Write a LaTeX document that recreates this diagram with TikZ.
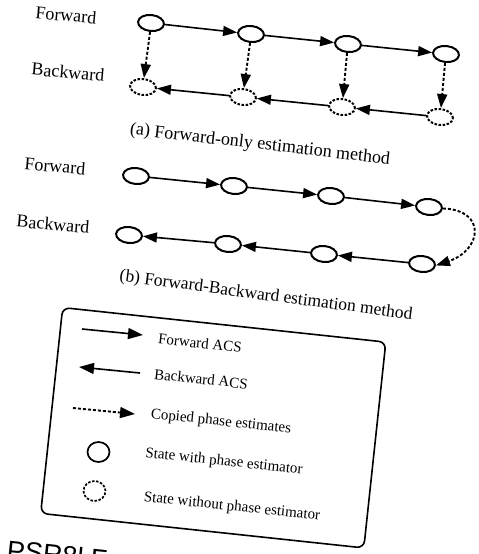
\documentclass[tikz,border=0pt]{standalone}
\usepackage{fontspec}
\setmainfont{Liberation Serif}
\newfontfamily\sansfont{Liberation Sans}
\usetikzlibrary{shapes.geometric,arrows.meta}
\begin{document}
\begin{tikzpicture}[x=1pt,y=-1pt,
  st/.style={ellipse,draw,line width=2pt,inner sep=0pt,minimum width=26pt,minimum height=16pt,rotate=-6},
  stx/.style={st,dash pattern=on 2.5pt off 1.6pt},
  lst/.style={ellipse,draw,line width=1.7pt,inner sep=0pt,minimum width=22pt,minimum height=20pt},
  lstx/.style={lst,dash pattern=on 2.5pt off 1.6pt},
  fw/.style={line width=1.6pt,-{Triangle[length=14pt,width=10pt]}},
  cp/.style={fw,line width=1.9pt,dash pattern=on 3pt off 2pt},
  lbl/.style={font=\fontsize{18}{20}\selectfont,rotate=-5,inner sep=0pt},
  capt/.style={font=\fontsize{18}{20}\selectfont,inner sep=0pt},
  leg/.style={font=\fontsize{15}{17}\selectfont,rotate=-6,inner sep=0pt}
]
\useasboundingbox (0,0) rectangle (479,554);

% ---- (a) Forward-only ----
\node[lbl] (la1) at (66,15) {Forward};
\node[lbl] (la2) at (68,72) {Backward};
\node[st] (F1) at (151,23) {};
\node[st] (F2) at (251,34) {};
\node[st] (F3) at (348,44) {};
\node[st] (F4) at (446,54) {};
\node[stx] (B1) at (143,87) {};
\node[stx] (B2) at (243,97) {};
\node[stx] (B3) at (342,107) {};
\node[stx] (B4) at (440,117) {};
\draw[fw] (F1) -- (F2);
\draw[fw] (F2) -- (F3);
\draw[fw] (F3) -- (F4);
\draw[fw] (B2) -- (B1);
\draw[fw] (B3) -- (B2);
\draw[fw] (B4) -- (B3);
\draw[cp] (F1.south) -- (B1.north);
\draw[cp] (F2.south) -- (B2.north);
\draw[cp] (F3.south) -- (B3.north);
\draw[cp] (F4.south) -- (B4.north);
\node[capt,rotate=-6.6] (capa) at (260,145) {(a) Forward-only estimation method};

% ---- (b) Forward-Backward ----
\node[lbl] (lb1) at (55,166) {Forward};
\node[lbl] (lb2) at (53,224) {Backward};
\node[st] (G1) at (136,176) {};
\node[st] (G2) at (234,186) {};
\node[st] (G3) at (331,196) {};
\node[st] (G4) at (429,207) {};
\node[st] (H1) at (129,235) {};
\node[st] (H2) at (228,244) {};
\node[st] (H3) at (324,254) {};
\node[st] (H4) at (422,264) {};
\draw[fw] (G1) -- (G2);
\draw[fw] (G2) -- (G3);
\draw[fw] (G3) -- (G4);
\draw[fw] (H4) -- (H3);
\draw[fw] (H3) -- (H2);
\draw[fw] (H2) -- (H1);
\draw[cp] (G4.east) .. controls (487,210) and (482,250) .. (H4.east);
\node[capt,font=\fontsize{17.5}{20}\selectfont,rotate=-7.5] (capb) at (266,296) {(b) Forward-Backward estimation method};

% ---- legend ----
\node[draw,line width=1.6pt,rounded corners=7pt,minimum width=325pt,minimum height=207pt,rotate=-6.1] (legend) at (213.25,427.75) {};
\coordinate (lf1) at (82,329);
\coordinate (lf2) at (143,335);
\coordinate (lb1s) at (140,373);
\coordinate (lb1e) at (79,367);
\coordinate (lc1) at (73,408);
\coordinate (lc2) at (135,414);
\draw[fw,-{Triangle[length=15pt,width=11pt]}] (lf1) -- (lf2);
\draw[fw,-{Triangle[length=15pt,width=11pt]}] (lb1s) -- (lb1e);
\draw[cp,-{Triangle[length=15pt,width=11pt]}] (lc1) -- (lc2);
\node[lst] (ls1) at (98.5,452) {};
\node[lstx] (ls2) at (94.5,491) {};
\node[leg] (t1) at (200,343) {Forward ACS};
\node[leg] (t2) at (201,379) {Backward ACS};
\node[leg] (t3) at (221,422) {Copied phase estimates};
\node[leg] (t4) at (224,462) {State with phase estimator};
\node[leg] (t5) at (232,507) {State without phase estimator};

% ---- cut-off text at bottom (as in the reference) ----
\node[font=\sansfont\fontsize{27}{30}\selectfont,anchor=base west,rotate=-6,inner sep=0pt] (psr) at (6,559) {PSR8l F};
\end{tikzpicture}
\end{document}
